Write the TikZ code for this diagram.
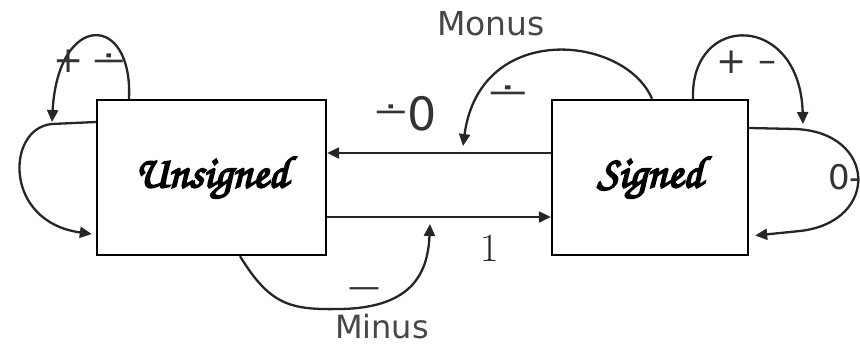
\documentclass[tikz,border=0pt]{standalone}
\usepackage{graphicx}
\usepackage{fontspec}
\newfontfamily\dv{DejaVu Sans}
\newfontfamily\chorus{texgyrechorus-mediumitalic.otf}[FakeBold=4]
\usetikzlibrary{arrows.meta}
\newcommand\dmin[1]{\scalebox{#1}[1]{∸}}
\begin{document}
\begin{tikzpicture}[x=1pt,y=-1pt,
  box/.style={draw=black, line width=2.4pt, minimum width=#1, minimum height=155pt, inner sep=0pt},
  conn/.style={draw=black!85, line width=2.3pt, -{Triangle[length=12pt,width=11pt]}},
  lbl/.style={font=\dv\fontsize{33}{33}\selectfont, text=black!72, inner sep=0pt},
  sym/.style={font=\dv\fontsize{#1}{#1}\selectfont, text=black!80, inner sep=0pt}]
\useasboundingbox (0,0) rectangle (860,348);
\fill[white] (0,0) rectangle (860,348);
% boxes
\node[box=229pt] (U) at (211.5,177.5) {\chorus\fontsize{45}{45}\selectfont Unsigned};
\node[box=196pt] (S) at (650,177.5) {\chorus\fontsize{45}{45}\selectfont Signed};
% free ends
\coordinate (mt) at (463,146);
\coordinate (sl) at (803,124);
\coordinate (ul) at (52,122);
\coordinate (mn) at (430,224);
% straight arrows
\draw[conn] ([yshift=24.5pt]S.west) -- ([yshift=24.5pt]U.east);
\draw[conn] ([yshift=-39.5pt]U.east) -- ([yshift=-39.5pt]S.west);
% Monus
\draw[conn] ([xshift=2pt]S.north) .. controls (625,35) and (480,20) .. (mt);
% Signed loops
\draw[conn] ([xshift=43pt]S.north) .. controls (690,12) and (800,12) .. (sl);
\draw[conn] ([yshift=49.5pt]S.east) -- (795,129) .. controls (877,132) and (880,222) .. (800,231) -- ([xshift=6pt,yshift=-58pt]S.east);
% Unsigned loops
\draw[conn] ([xshift=-82.5pt]U.north) .. controls (133,12) and (58,12) .. (ul);
\draw[conn] ([yshift=55.5pt]U.west) -- (52,124) .. controls (6,128) and (3,222) .. ([xshift=-4pt,yshift=-56.5pt]U.west);
% Minus
\draw[conn] ([xshift=28.5pt]U.south) .. controls (270,305) and (290,310) .. (340,309) .. controls (415,308) and (428,270) .. (mn);
% labels
\node[lbl] (monus) at (491,24) {Monus};
\node[lbl, font=\dv\fontsize{32}{32}\selectfont] (minus) at (382,327) {Minus};
\node[sym=32] (dz) at (391,114) {\dmin{1.4}};
\node[sym=46] (zero) at (422,114) {0};
\node[sym=36] (up) at (69,61) {+};
\node[sym=32] (ud) at (109,63) {\dmin{1.4}};
\node[sym=36] (sp) at (732,62) {+};
\node[sym=36] (sm) at (767,67) {–};
\node[sym=32] (md) at (508,95) {\dmin{1.7}};
\node[sym=32] (mm) at (364,293) {—};
\node[sym=34, anchor=west] (zm) at (828,177) {0-};
\node[font=\fontsize{40}{40}\selectfont, text=black!85, inner sep=0pt] (one) at (490,248) {1};
\end{tikzpicture}
\end{document}
